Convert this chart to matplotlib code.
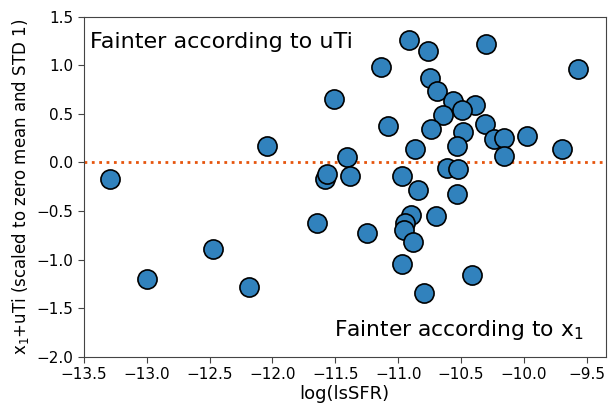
import matplotlib
matplotlib.use('Agg')
import matplotlib.pyplot as plt
import numpy as np

# log(lsSFR) and the combined x1+uTi score for each object
log_lssfr = [-10.912, -10.761, -10.300, -11.140, -9.568, -10.750, -10.689, -11.511,
             -10.560, -10.387, -10.493, -10.642, -10.310, -11.079, -10.740, -10.483,
             -10.236, -10.156, -9.973, -10.530, -10.869, -9.700, -11.410, -10.159,
             -11.583, -11.564, -11.381, -10.615, -10.527, -10.970, -10.840, -10.530,
             -11.644, -11.251, -10.901, -10.946, -10.954, -10.880, -10.700, -10.970,
             -10.793, -10.411, -13.293, -13.001, -12.476, -12.185, -12.047]
x1_uti = [1.259, 1.150, 1.215, 0.982, 0.962, 0.869, 0.738, 0.653,
          0.628, 0.587, 0.536, 0.484, 0.399, 0.371, 0.344, 0.309,
          0.244, 0.251, 0.275, 0.165, 0.141, 0.138, 0.056, 0.062,
          -0.171, -0.116, -0.137, -0.058, -0.068, -0.144, -0.288, -0.325,
          -0.624, -0.731, -0.539, -0.624, -0.693, -0.824, -0.556, -1.043,
          -1.339, -1.157, -0.171, -1.198, -0.892, -1.277, 0.172]

x_ticks = np.arange(-13.5, -9.49, 0.5)
y_ticks = np.arange(-2.0, 1.51, 0.5)

fig = plt.figure(figsize=(6.08, 4.05), dpi=100)
ax = fig.add_axes([0.138, 0.119, 0.858, 0.840])

ax.axhline(0.0, color='#e6550d', linestyle=':', linewidth=2, zorder=1)
ax.scatter(log_lssfr, x1_uti, s=190, color='#3182bd', edgecolors='black',
           linewidths=1.2, zorder=2)

ax.set_xlim(-13.5, -9.35)
ax.set_ylim(-2.0, 1.5)
ax.set_xticks(x_ticks)
ax.set_yticks(y_ticks)
ax.tick_params(labelsize=11, color='#444444', length=4)
for sp in ax.spines.values():
    sp.set_color('#444444')

ax.set_xlabel('log(lsSFR)', fontsize=13, labelpad=2)
ax.set_ylabel('x$_1$+uTi (scaled to zero mean and STD 1)', fontsize=12, labelpad=4)

ax.text(0.012, 0.926, 'Fainter according to uTi', transform=ax.transAxes,
        fontsize=16, ha='left', va='center')
ax.text(0.958, 0.079, 'Fainter according to x$_1$', transform=ax.transAxes,
        fontsize=15.7, ha='right', va='center')

fig.savefig('out.png', dpi=100)
